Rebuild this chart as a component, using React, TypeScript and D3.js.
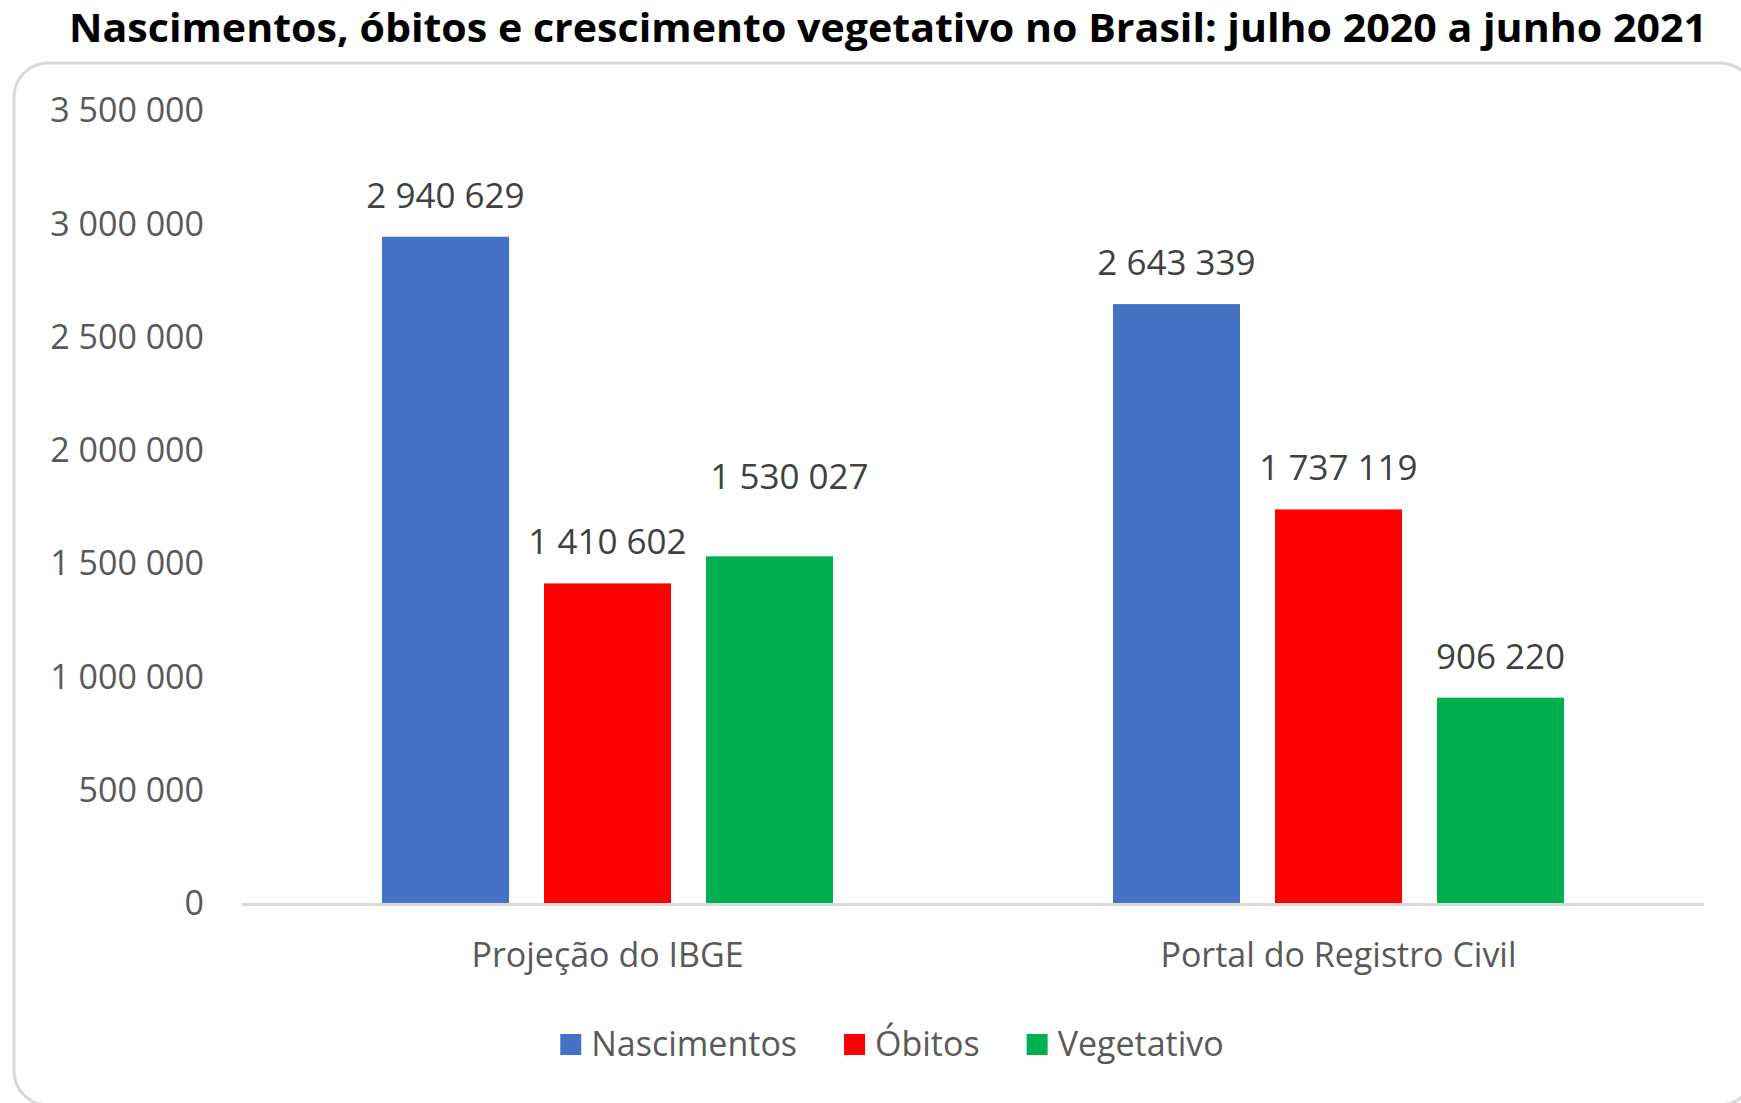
import React, { useEffect, useRef } from "react";
import * as d3 from "d3";

const categories = ["Projeção do IBGE", "Portal do Registro Civil"];
const seriesNames = ["Nascimentos", "Óbitos", "Vegetativo"];
const nascimentos = [2940629, 2643339];
const obitos = [1410602, 1737119];
const vegetativo = [1530027, 906220];
const yTicks = [0, 500000, 1000000, 1500000, 2000000, 2500000, 3000000, 3500000];
const colors = ["#4472C4", "#FF0000", "#00B050"];

const title =
  "Nascimentos, óbitos e crescimento vegetativo no Brasil: julho 2020 a junho 2021";

const W = 1741;
const H = 1103;
const margin = { top: 110, right: 37, bottom: 200, left: 242 };
const font = "'Open Sans', 'DejaVu Sans', sans-serif";

// labels moved by hand in the original so they don't collide
const labelNudge = { "Projeção do IBGE|Vegetativo": [20, -38] };

// 2 940 629 style
const fmt = (v) =>
  String(v).replace(/\B(?=(\d{3})+(?!\d))/g, " ");

const App = () => {
  const svgRef = useRef();

  useEffect(() => {
    const svg = d3.select(svgRef.current);
    svg.selectAll("*").remove();

    const values = [nascimentos, obitos, vegetativo];
    const rows = categories.map((c, i) => ({
      cat: c,
      vals: seriesNames.map((s, j) => ({
        cat: c,
        key: s,
        value: values[j][i],
        color: colors[j],
      })),
    }));

    const nudge = (d) => labelNudge[d.cat + "|" + d.key] || [0, 0];

    const x0 = d3
      .scaleBand()
      .domain(categories)
      .range([margin.left, W - margin.right])
      .paddingInner(0.383)
      .paddingOuter(0.1915);

    const x1 = d3
      .scaleBand()
      .domain(seriesNames)
      .range([0, x0.bandwidth()])
      .paddingInner(0.216)
      .paddingOuter(0);

    const y = d3
      .scaleLinear()
      .domain([0, 3500000])
      .range([H - margin.bottom, margin.top]);

    // frame
    svg
      .append("rect")
      .attr("x", 14)
      .attr("y", 63)
      .attr("width", 1740)
      .attr("height", 1042)
      .attr("rx", 34)
      .attr("fill", "#fff")
      .attr("stroke", "#d9d9d9")
      .attr("stroke-width", 3);

    // title
    svg
      .append("text")
      .attr("x", 69)
      .attr("y", 42)
      .attr("textLength", 1638)
      .attr("lengthAdjust", "spacingAndGlyphs")
      .style("font-family", font)
      .style("font-weight", 700)
      .style("font-size", "39px")
      .attr("fill", "#000")
      .text(title);

    // y axis labels
    svg
      .append("g")
      .selectAll("text")
      .data(yTicks)
      .enter()
      .append("text")
      .attr("x", 204)
      .attr("y", (d) => y(d))
      .attr("dy", "0.36em")
      .attr("text-anchor", "end")
      .style("font-family", font)
      .style("font-size", "34px")
      .attr("fill", "#595959")
      .text((d) => fmt(d));

    // bars
    const groups = svg
      .append("g")
      .selectAll("g")
      .data(rows)
      .enter()
      .append("g")
      .attr("transform", (d) => "translate(" + x0(d.cat) + ",0)");

    groups
      .selectAll("rect")
      .data((d) => d.vals)
      .enter()
      .append("rect")
      .attr("x", (d) => x1(d.key))
      .attr("y", (d) => y(d.value))
      .attr("width", x1.bandwidth())
      .attr("height", (d) => y(0) - y(d.value))
      .attr("fill", (d) => d.color);

    groups
      .selectAll("text")
      .data((d) => d.vals)
      .enter()
      .append("text")
      .attr("x", (d) => x1(d.key) + x1.bandwidth() / 2 + nudge(d)[0])
      .attr("y", (d) => y(d.value) - 29 + nudge(d)[1])
      .attr("text-anchor", "middle")
      .style("font-family", font)
      .style("font-size", "35px")
      .attr("fill", "#404040")
      .text((d) => fmt(d.value));

    // x axis
    svg
      .append("line")
      .attr("x1", margin.left)
      .attr("x2", W - margin.right)
      .attr("y1", y(0) + 1.5)
      .attr("y2", y(0) + 1.5)
      .attr("stroke", "#d9d9d9")
      .attr("stroke-width", 3);

    svg
      .append("g")
      .selectAll("text")
      .data(categories)
      .enter()
      .append("text")
      .attr("x", (d) => x0(d) + x0.bandwidth() / 2)
      .attr("y", 967)
      .attr("text-anchor", "middle")
      .style("font-family", font)
      .style("font-size", "34px")
      .attr("fill", "#595959")
      .text((d) => d);

    // legend
    const legend = svg.append("g");
    let cx = 0;
    seriesNames.forEach((s, i) => {
      const item = legend.append("g").attr("transform", "translate(" + cx + ",0)");
      item
        .append("rect")
        .attr("x", 0)
        .attr("y", 1034)
        .attr("width", 21)
        .attr("height", 21)
        .attr("fill", colors[i]);
      const t = item
        .append("text")
        .attr("x", 31)
        .attr("y", 1056)
        .style("font-family", font)
        .style("font-size", "34px")
        .attr("fill", "#595959")
        .text(s);
      cx += 31 + t.node().getComputedTextLength() + 47;
    });
    const legW = cx - 47;
    legend.attr("transform", "translate(" + (892 - legW / 2) + ",0)");
  }, []);

  return (
    <svg
      ref={svgRef}
      width={W}
      height={H}
      style={{ position: "absolute", left: 0, top: 0, background: "#fff" }}
    ></svg>
  );
};

export default App;
